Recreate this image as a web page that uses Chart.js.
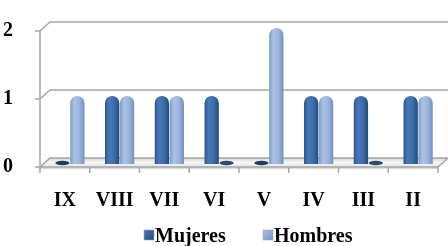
<!DOCTYPE html>
<html>
<head>
<meta charset="utf-8">
<script src="https://cdn.jsdelivr.net/npm/chart.js@4.4.1/dist/chart.umd.min.js"></script>
<style>
  html, body { margin: 0; padding: 0; background: #fff; }
  #wrap { width: 448px; height: 246px; }
</style>
</head>
<body>
<div id="wrap"><canvas id="chart"></canvas></div>
<script>
// ===== Data =====
const categories = ['IX', 'VIII', 'VII', 'VI', 'V', 'IV', 'III', 'II'];
const mujeres = [0, 1, 1, 1, 0, 1, 1, 1];
const hombres = [1, 1, 1, 0, 2, 1, 0, 1];
const seriesNames = ['Mujeres', 'Hombres'];
const yTicks = [0, 1, 2];

// ===== Look =====
const FONT = '"Liberation Serif", "Times New Roman", serif';
const DEPTH_X = 10, DEPTH_Y = -9;   // back wall offset
const BAR_DX = 5, BAR_DY = -3;      // bars sit half way in depth
const CAT_PCT = 0.6, BAR_PCT = 0.96;

const palette = [
  { stops: ['#2c5890', '#4878b6', '#3d6dab', '#244a7a'], box: '#3a6aa8', zero: '#1f3b63' },
  { stops: ['#7f9bc9', '#abc2e6', '#9cb4dc', '#7390c0'], box: '#98b0da', zero: '#2a4870' }
];

// cylinder shading: horizontal gradient across each bar
function barFill(ctx) {
  const chart = ctx.chart;
  const pal = palette[ctx.datasetIndex];
  if (!chart.chartArea || ctx.type !== 'data') return pal.box;
  const xs = chart.scales.x;
  const slot = (xs.width / categories.length) * CAT_PCT / 2;
  const w = slot * BAR_PCT;
  const cx = xs.getPixelForValue(ctx.dataIndex) + (ctx.datasetIndex === 0 ? -slot / 2 : slot / 2);
  const g = chart.ctx.createLinearGradient(cx - w / 2, 0, cx + w / 2, 0);
  g.addColorStop(0, pal.stops[0]);
  g.addColorStop(0.3, pal.stops[1]);
  g.addColorStop(0.65, pal.stops[2]);
  g.addColorStop(1, pal.stops[3]);
  return g;
}

// ===== 3D frame, zero markers and legend =====
const frame3d = {
  id: 'frame3d',
  beforeDatasetsDraw(chart) {
    const { ctx, chartArea: a, scales: { x, y } } = chart;
    const L = a.left, R = a.right, B = a.bottom;
    ctx.save();
    ctx.strokeStyle = '#a6a6a6';
    ctx.lineWidth = 1.5;

    // grid lines: side wall diagonal + back wall line
    yTicks.forEach(v => {
      if (v === 0) return;
      const py = y.getPixelForValue(v);
      ctx.beginPath();
      ctx.moveTo(L, py);
      ctx.lineTo(L + DEPTH_X, py + DEPTH_Y);
      ctx.lineTo(chart.width, py + DEPTH_Y);
      ctx.stroke();
    });

    // left axis line + tick marks
    ctx.beginPath();
    ctx.moveTo(L, y.getPixelForValue(yTicks[yTicks.length - 1]));
    ctx.lineTo(L, B);
    yTicks.forEach(v => {
      const py = y.getPixelForValue(v);
      ctx.moveTo(L - 5, py);
      ctx.lineTo(L, py);
    });
    ctx.stroke();

    // floor plate
    const fg = ctx.createLinearGradient(0, B + DEPTH_Y, 0, B);
    fg.addColorStop(0, '#d6d6d6');
    fg.addColorStop(0.5, '#f7f7f7');
    fg.addColorStop(1, '#e4e4e4');
    ctx.fillStyle = fg;
    ctx.beginPath();
    ctx.moveTo(L, B);
    ctx.lineTo(R, B);
    ctx.lineTo(R + DEPTH_X, B + DEPTH_Y);
    ctx.lineTo(L + DEPTH_X, B + DEPTH_Y);
    ctx.closePath();
    ctx.fill();
    ctx.stroke();
    ctx.fillStyle = '#b5b5b5';
    ctx.fillRect(L, B, R - L, 1.5);

    // category tick marks under floor
    ctx.beginPath();
    for (let i = 0; i <= categories.length; i++) {
      const px = L + (R - L) * i / categories.length;
      ctx.moveTo(px, B);
      ctx.lineTo(px, B + 6);
    }
    ctx.stroke();
    ctx.restore();

    ctx.save();
    ctx.translate(BAR_DX, BAR_DY);
  },
  afterDatasetsDraw(chart) {
    const { ctx, scales: { y } } = chart;
    const y0 = y.getPixelForValue(0);
    chart.data.datasets.forEach((ds, di) => {
      const meta = chart.getDatasetMeta(di);
      ds.data.forEach((v, i) => {
        if (v !== 0) return;
        const el = meta.data[i];
        ctx.fillStyle = palette[di].zero;
        ctx.beginPath();
        ctx.ellipse(el.x, y0 - 1, el.width / 2, 2.2, 0, 0, Math.PI * 2);
        ctx.fill();
      });
    });
    ctx.restore();
  },
  afterDraw(chart) {
    const { ctx } = chart;
    const items = [{ x: 144 }, { x: 263 }];
    ctx.save();
    ctx.font = 'bold 20px ' + FONT;
    ctx.textBaseline = 'middle';
    items.forEach((it, i) => {
      const bx = it.x, by = 230, s = 10;
      const g = ctx.createLinearGradient(bx, by, bx + s, by + s);
      g.addColorStop(0, palette[i].stops[1]);
      g.addColorStop(1, palette[i].stops[3]);
      ctx.fillStyle = g;
      ctx.fillRect(bx, by, s, s);
      ctx.strokeStyle = '#9aa9c0';
      ctx.lineWidth = 0.6;
      ctx.strokeRect(bx, by, s, s);
      ctx.fillStyle = '#000';
      ctx.fillText(chart.data.datasets[i].label, bx + s + 1, 237);
    });
    ctx.restore();
  }
};

const barStyle = {
  categoryPercentage: CAT_PCT,
  barPercentage: BAR_PCT,
  backgroundColor: barFill,
  borderWidth: 0,
  borderRadius: { topLeft: 7, topRight: 7, bottomLeft: 0, bottomRight: 0 },
  borderSkipped: 'start',
  clip: false
};

const chart = new Chart(document.getElementById('chart'), {
  type: 'bar',
  data: {
    labels: categories,
    datasets: [
      { label: seriesNames[0], data: mujeres, ...barStyle },
      { label: seriesNames[1], data: hombres, ...barStyle }
    ]
  },
  options: {
    responsive: true,
    maintainAspectRatio: false,
    animation: false,
    devicePixelRatio: 1,
    layout: { padding: { top: 28, right: 10, left: 0, bottom: 0 } },
    plugins: {
      colors: { enabled: false },
      legend: { display: false },
      tooltip: { enabled: false }
    },
    scales: {
      x: {
        grid: { display: false },
        border: { display: false },
        ticks: { color: '#000', padding: 14, font: { family: FONT, size: 20, weight: 'bold' } },
        afterFit: s => { s.height = 79; }
      },
      y: {
        min: yTicks[0],
        max: yTicks[yTicks.length - 1],
        grid: { display: false },
        border: { display: false },
        ticks: { stepSize: 1, color: '#000', padding: 19, font: { family: FONT, size: 20, weight: 'bold' } },
        afterFit: s => { s.width = 40; }
      }
    }
  },
  plugins: [frame3d]
});
</script>
</body>
</html>
